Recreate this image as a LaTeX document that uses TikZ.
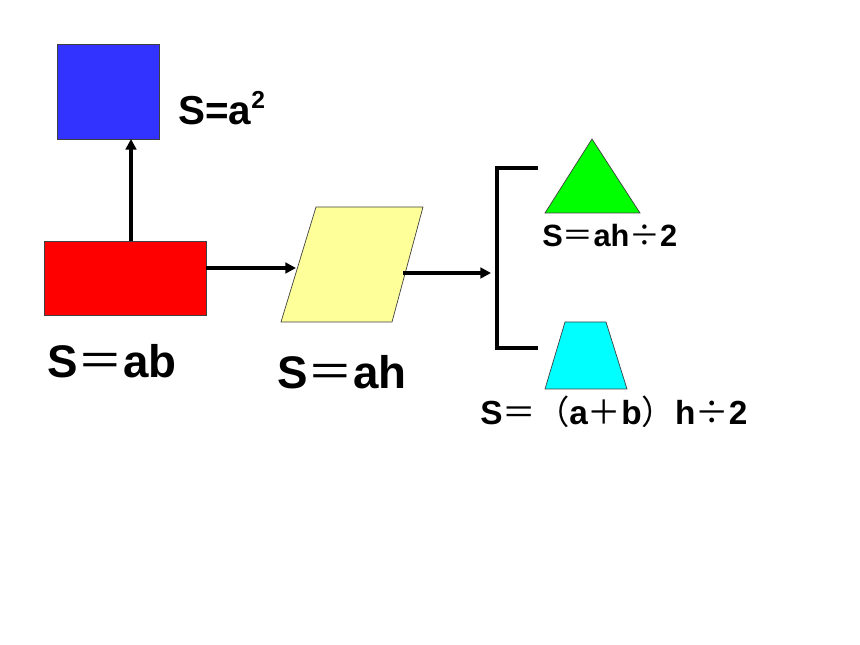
\documentclass[tikz,border=0pt]{standalone}
\usepackage{fontspec}
\setmainfont{Liberation Sans}
\newfontfamily\cjk{Noto Sans CJK SC}
\usetikzlibrary{arrows.meta}

\definecolor{sqblue}{HTML}{3333FF}
\definecolor{rectred}{HTML}{FF0000}
\definecolor{parayellow}{HTML}{FFFF99}
\definecolor{trigreen}{HTML}{00FF00}
\definecolor{trapcyan}{HTML}{00FFFF}

\newcommand{\fw}[1]{{\cjk\mdseries #1}}

\begin{document}
\begin{tikzpicture}[x=0.02cm, y=-0.02cm,
  piece/.style={draw=black!75, line width=0.4pt, inner sep=0pt, outer sep=0pt},
  link/.style={line width=2pt, -{Triangle[length=6pt, width=6pt]}},
  formula/.style={font=\bfseries, inner sep=0pt, anchor=base west}]
  \useasboundingbox (0,0) rectangle (860,645);

  % square and rectangle
  \node[piece, fill=sqblue, minimum width=2.04cm, minimum height=1.9cm] (square) at (108,91.5) {};
  \node[piece, fill=rectred, minimum width=3.24cm, minimum height=1.48cm] (rect) at (125,278) {};

  % parallelogram
  \draw[piece, fill=parayellow] (316,207) -- (423,207) -- (392,322) -- (281,322) -- cycle;
  \coordinate (paraleft) at (296,268);
  \coordinate (pararight) at (403,273);

  % bracket
  \coordinate (brtop) at (538,168);
  \coordinate (brbot) at (538,348);
  \coordinate (brin) at (491,273);
  \draw[line width=2pt] (brtop) -- (497,168) -- (497,348) -- (brbot);

  % triangle and trapezoid
  \draw[piece, fill=trigreen] (592,139) -- (640,213) -- (545,213) -- cycle;
  \draw[piece, fill=trapcyan] (565,322) -- (606,322) -- (627,389) -- (545,389) -- cycle;

  % arrows
  \coordinate (up) at (131,0);
  \draw[link] (up |- rect.north) -- (up |- square.south);
  \draw[link] (paraleft -| rect.east) -- (paraleft);
  \draw[link] (pararight) -- (brin);

  % formulas
  \node[formula, font=\bfseries\fontsize{23}{23}\selectfont] (fsquare) at (178,125) {S=a\raisebox{0.42em}{\fontsize{14}{14}\selectfont 2}};
  \node[formula, font=\bfseries\fontsize{26}{26}\selectfont] (frect) at (47,378) {S\fw{＝}ab};
  \node[formula, font=\bfseries\fontsize{26}{26}\selectfont] (fpara) at (277,389) {S\fw{＝}ah};
  \node[formula, font=\bfseries\fontsize{17.5}{17.5}\selectfont] (ftri) at (542,247) {S\fw{＝}ah\fw{÷}2};
  \node[formula, font=\bfseries\fontsize{19}{19}\selectfont] (ftrap) at (480,425) {S\fw{＝（}a\fw{＋}b\fw{）}h\fw{÷}2};
\end{tikzpicture}
\end{document}
